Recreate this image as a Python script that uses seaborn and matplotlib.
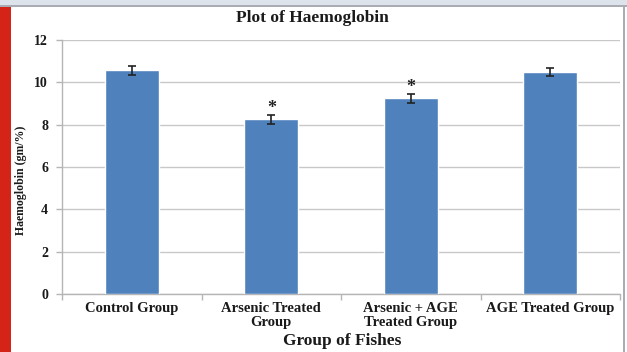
import matplotlib
matplotlib.use("Agg")
import matplotlib.pyplot as plt
from matplotlib.patches import Rectangle
from matplotlib.ticker import FixedLocator
import seaborn as sns
import pandas as pd

# Haemoglobin levels per fish group (mean and standard error)
groups = ["Control Group", "Arsenic Treated\nGroup", "Arsenic + AGE\nTreated Group", "AGE Treated Group"]
haemoglobin = [10.57, 8.25, 9.24, 10.47]
std_err = [0.20, 0.20, 0.20, 0.19]
significant = [False, True, True, False]
y_ticks = [0, 2, 4, 6, 8, 10, 12]

sns.set_theme(style="white")
plt.rcParams["font.family"] = ["Liberation Serif", "DejaVu Serif"]
plt.rcParams["font.weight"] = "bold"

df = pd.DataFrame({"group": groups, "hb": haemoglobin})

fig = plt.figure(figsize=(6.27, 3.52), dpi=100)
fig.patch.set_facecolor("white")

# page decorations: red side strip, grey top band and right border
fig.patches.append(Rectangle((0, 0), 11 / 627, 1, transform=fig.transFigure,
                             facecolor="#d42418", edgecolor="none", zorder=0))
fig.patches.append(Rectangle((0, 1 - 5 / 352), 1, 5 / 352, transform=fig.transFigure,
                             facecolor="#dde3ea", edgecolor="none", zorder=0))
fig.patches.append(Rectangle((0, 1 - 7 / 352), 1, 2 / 352, transform=fig.transFigure,
                             facecolor="#a9adb3", edgecolor="none", zorder=0))
fig.patches.append(Rectangle((623 / 627, 0), 2 / 627, 1 - 5 / 352, transform=fig.transFigure,
                             facecolor="#a9adb3", edgecolor="none", zorder=0))

ax = fig.add_axes([62 / 627, 58 / 352, 558 / 627, 254 / 352])
ax.set_facecolor("none")

sns.barplot(data=df, x="group", y="hb", color="#4f81bd", width=0.39,
            saturation=1, errorbar=None, ax=ax, zorder=3)
ax.errorbar(range(len(groups)), haemoglobin, yerr=std_err, fmt="none",
            ecolor="#222222", elinewidth=1.2, capsize=3, capthick=1.2, zorder=4)

for i, (v, e, s) in enumerate(zip(haemoglobin, std_err, significant)):
    if s:
        ax.annotate("*", (i, v + e), xytext=(0, -1), textcoords="offset points",
                    ha="center", va="bottom", fontsize=13, fontweight="bold", color="#222222")

ax.set_xlim(-0.5, len(groups) - 0.5)
ax.set_ylim(0, 12)
ax.set_yticks(y_ticks)
ax.yaxis.grid(True, color="#c8c8c8", linewidth=1)
ax.set_axisbelow(True)

for side in ["top", "right"]:
    ax.spines[side].set_visible(False)
for side in ["left", "bottom"]:
    ax.spines[side].set_color("#b5b5b5")
    ax.spines[side].set_linewidth(1)

ax.xaxis.set_minor_locator(FixedLocator([k - 0.5 for k in range(len(groups) + 1)]))
ax.tick_params(axis="x", which="major", length=0, pad=6, labelsize=10.5, colors="#1a1a1a")
ax.tick_params(axis="x", which="minor", length=4, color="#b5b5b5", width=1, bottom=True)
ax.tick_params(axis="y", length=4, color="#b5b5b5", width=1, left=True, labelsize=10,
               colors="#1a1a1a", pad=6)
for lab in ax.get_xticklabels() + ax.get_yticklabels():
    lab.set_fontweight("bold")
for lab in ax.get_xticklabels():
    lab.set_linespacing(1.05)

ax.set_xlabel("")
ax.set_ylabel("")
fig.text(342 / 627, 1 - 341 / 352, "Group of Fishes", ha="center", va="center",
         fontsize=12.5, fontweight="bold", color="#1a1a1a")
fig.text(21 / 627, 1 - 180 / 352, "Haemoglobin (gm/%)", ha="center", va="center",
         rotation=90, fontsize=8.5, fontweight="bold", color="#1a1a1a")
fig.text(312 / 627, 1 - 18 / 352, "Plot of Haemoglobin", ha="center", va="center",
         fontsize=12.5, fontweight="bold", color="#1a1a1a")

fig.savefig("out.png", dpi=100)
